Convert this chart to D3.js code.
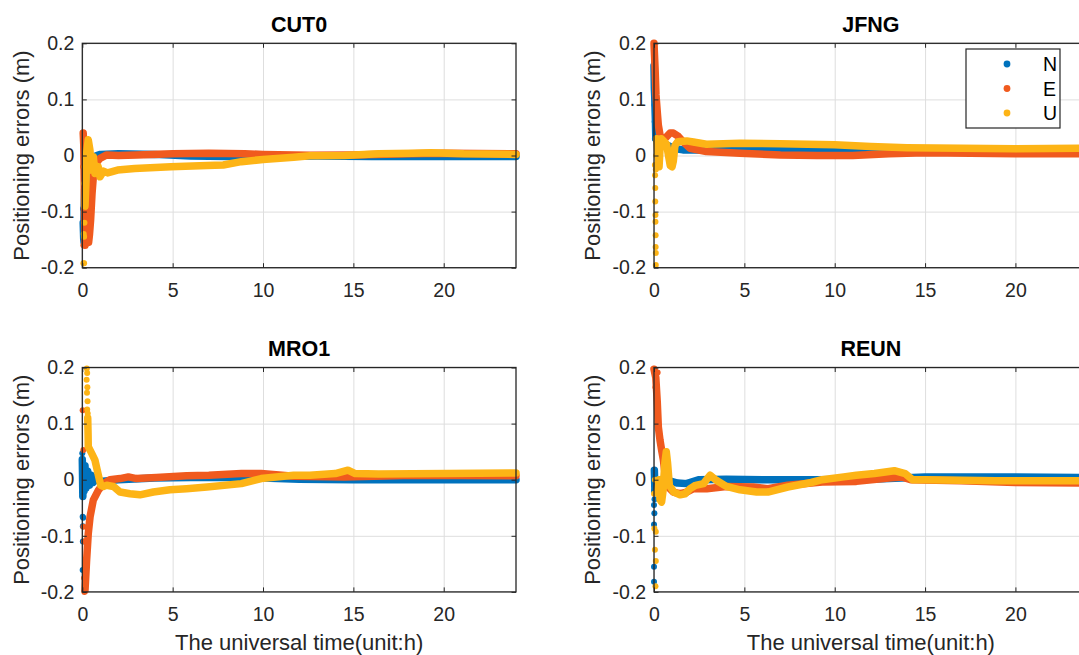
<!DOCTYPE html>
<html>
<head>
<meta charset="utf-8">
<script src="https://cdn.jsdelivr.net/npm/d3@7"></script>
<style>
  html, body { margin: 0; padding: 0; background: #fff; overflow: hidden; }
  svg { display: block; font-family: "Liberation Sans", Arial, Helvetica, sans-serif; }
</style>
</head>
<body>
<svg id="chart" width="1079" height="655"></svg>
<script>
// ---------------- DATA ----------------
const stations = ["CUT0", "JFNG", "MRO1", "REUN"];
const seriesNames = ["N", "E", "U"];
const seriesColors = ["#0072BD", "#F05A1E", "#FDB416"];
const xTicks = [0, 5, 10, 15, 20];
const yTicks = [-0.2, -0.1, 0, 0.1, 0.2];
const yTickLabels = ["-0.2", "-0.1", "0", "0.1", "0.2"];
const xLabel = "The universal time(unit:h)";
const yLabel = "Positioning errors (m)";

// [time (h), error (m)] -- dense band of each series
const cut0_N = [[0.05,-0.12],[0.08,-0.15],[0.1,-0.1],[0.13,-0.06],[0.16,-0.13],[0.2,-0.03],[0.25,0.01],[0.3,0.02],[0.35,-0.01],[0.45,0.0],[0.6,-0.005],[0.8,0.0],[1.0,0.002],[2,0.003],[4,0.002],[6,-0.001],[8,-0.002],[10,-0.002],[13,-0.001],[16,-0.002],[20,-0.002],[24,-0.002]];
const cut0_E = [[0.05,0.04],[0.08,0.02],[0.1,-0.03],[0.12,-0.09],[0.15,-0.16],[0.2,-0.12],[0.25,-0.15],[0.3,-0.1],[0.35,-0.155],[0.4,-0.14],[0.46,-0.115],[0.54,-0.067],[0.61,-0.038],[0.76,-0.014],[0.98,-0.005],[1.35,0.001],[2,0.0],[3,0.001],[5,0.003],[7,0.004],[9,0.003],[10,0.002],[12.6,0.0005],[15,0.001],[18,0.003],[20,0.004],[24,0.003]];
const cut0_U = [[0.15,-0.09],[0.2,-0.05],[0.24,0.004],[0.33,0.028],[0.42,0.01],[0.52,-0.026],[0.61,-0.002],[0.7,-0.032],[0.88,-0.02],[0.98,-0.038],[1.17,-0.028],[1.4,-0.031],[1.95,-0.026],[2.9,-0.023],[4.9,-0.02],[6.9,-0.018],[7.8,-0.017],[8.8,-0.011],[10,-0.007],[11.7,-0.003],[12.6,-0.0005],[14.5,0.0],[16.4,0.003],[18.3,0.004],[19.3,0.005],[21.1,0.003],[24,0.002]];
const jfng_N = [[0.0,0.16],[0.02,0.12],[0.04,0.105],[0.06,0.08],[0.08,0.06],[0.1,0.03],[0.15,0.05],[0.24,0.022],[0.4,0.02],[0.7,0.019],[1.07,0.013],[1.6,0.01],[3,0.01],[5,0.01],[8,0.009],[10,0.01],[13,0.009],[15,0.008],[20,0.008],[24,0.008]];
const jfng_E = [[0.0,0.2],[0.02,0.185],[0.04,0.17],[0.06,0.155],[0.11,0.108],[0.18,0.078],[0.24,0.054],[0.33,0.037],[0.42,0.028],[0.6,0.03],[0.89,0.04],[1.07,0.04],[1.35,0.034],[1.6,0.025],[1.99,0.013],[2.9,0.007],[4.76,0.004],[7,0.001],[9,0.0],[11,0.0],[13,0.003],[15,0.005],[20,0.003],[24,0.003]];
const jfng_U = [[0.15,0.03],[0.22,0.0],[0.28,-0.02],[0.33,0.01],[0.4,0.03],[0.55,0.025],[0.7,0.02],[0.8,0.0],[0.9,-0.018],[1.0,-0.02],[1.07,-0.01],[1.16,0.018],[1.3,0.024],[1.44,0.025],[1.81,0.026],[2.18,0.024],[2.9,0.02],[4.76,0.022],[7,0.021],[10,0.019],[12,0.016],[14,0.014],[17,0.013],[20,0.012],[24,0.013]];
const mro1_N = [[0.0,0.036],[0.03,-0.03],[0.06,0.02],[0.1,-0.02],[0.15,0.025],[0.2,-0.015],[0.3,0.015],[0.4,-0.01],[0.5,0.008],[0.6,-0.005],[0.8,0.002],[1.0,-0.003],[2,0.0],[4,0.003],[6,0.004],[8,0.004],[10,0.003],[12,0.001],[15,0.0],[20,0.0],[24,0.0]];
const mro1_E = [[0.15,-0.197],[0.24,-0.143],[0.33,-0.096],[0.43,-0.066],[0.61,-0.036],[0.89,-0.019],[1.17,-0.007],[1.53,0.0],[2.09,0.002],[2.55,0.005],[3.0,0.002],[4.1,0.004],[5.77,0.007],[7,0.008],[8.8,0.011],[9.9,0.011],[11.7,0.006],[14.5,0.005],[18.3,0.008],[24,0.007]];
const mro1_U = [[0.3,0.11],[0.32,0.08],[0.33,0.059],[0.52,0.047],[0.7,0.035],[0.89,0.008],[1.02,-0.01],[1.17,-0.012],[1.35,-0.01],[1.72,-0.012],[2.09,-0.022],[2.64,-0.025],[3.19,-0.027],[3.93,-0.022],[4.85,-0.018],[5.77,-0.016],[6.9,-0.013],[8.8,-0.007],[9.9,0.002],[11.7,0.008],[12.6,0.008],[14,0.011],[14.7,0.017],[15.1,0.011],[16.4,0.01],[20.2,0.011],[24,0.012]];
const reun_N = [[0.02,0.017],[0.05,-0.02],[0.1,0.0],[0.2,-0.01],[0.4,0.0],[0.6,-0.005],[0.86,-0.002],[1.3,-0.006],[1.8,-0.007],[2.5,0.0],[4,0.001],[6,0.0],[9,0.0],[12,0.001],[15,0.005],[20,0.005],[24,0.004]];
const reun_E = [[0.0,0.197],[0.1,0.182],[0.18,0.139],[0.2,0.124],[0.24,0.094],[0.33,0.071],[0.42,0.053],[0.52,0.035],[0.61,0.011],[0.79,-0.013],[1.07,-0.022],[1.44,-0.025],[1.81,-0.022],[2.18,-0.016],[2.92,-0.016],[4,-0.012],[5.5,-0.013],[6.3,-0.016],[7.4,-0.01],[9.3,-0.004],[11.2,-0.003],[13,0.003],[13.7,0.005],[14.2,0.0],[17,-0.002],[20,-0.005],[24,-0.006]];
const reun_U = [[0.2,-0.02],[0.28,0.0],[0.33,-0.035],[0.42,-0.04],[0.5,-0.02],[0.6,0.03],[0.68,0.05],[0.75,0.03],[0.85,-0.01],[1.1,-0.022],[1.44,-0.027],[1.72,-0.025],[2.0,-0.016],[2.3,-0.01],[2.74,-0.007],[3.1,0.008],[3.4,0.0],[4.0,-0.012],[4.76,-0.018],[5.68,-0.022],[6.3,-0.022],[7.4,-0.013],[8.7,-0.005],[9.3,0.0],[10.5,0.005],[11.2,0.008],[12.2,0.011],[13.3,0.016],[13.9,0.011],[14.3,0.0],[15,0.0],[18.9,-0.002],[24,-0.002]];

// isolated early epochs (drawn as single dots)
const cut0_N_dots = [[0.04,-0.095],[0.05,-0.13],[0.06,-0.155]];
const cut0_E_dots = [[0.04,0.04],[0.05,-0.02],[0.06,-0.16]];
const cut0_U_dots = [[0.06,-0.192],[0.1,-0.192],[0.1,-0.145],[0.08,-0.14],[0.12,-0.12],[0.15,-0.091],[0.1,-0.05],[0.12,-0.02]];
const jfng_N_dots = [[0.0,0.165],[0.02,0.12],[0.03,0.09],[0.04,0.06],[0.05,0.03]];
const jfng_E_dots = [[0.01,0.195],[0.03,0.175]];
const jfng_U_dots = [[0.05,-0.017],[0.06,-0.035],[0.07,-0.058],[0.07,-0.082],[0.08,-0.106],[0.08,-0.118],[0.09,-0.142],[0.09,-0.163],[0.1,-0.174],[0.1,-0.195],[0.12,0.0],[0.1,-0.025]];
const mro1_N_dots = [[0.0,0.047],[0.0,0.036],[0.02,-0.012],[0.02,-0.03],[0.02,-0.066],[0.03,-0.083],[0.03,-0.11],[0.02,-0.161],[0.05,-0.068]];
const mro1_E_dots = [[0.02,0.124],[0.06,0.053],[0.06,-0.084],[0.1,-0.11],[0.1,-0.175],[0.12,-0.2]];
const mro1_U_dots = [[0.25,0.198],[0.27,0.19],[0.24,0.178],[0.28,0.165],[0.26,0.155],[0.29,0.14],[0.27,0.125],[0.3,0.118]];
const reun_N_dots = [[0.01,0.017],[0.0,0.008],[0.0,-0.02],[0.0,-0.045],[0.02,-0.06],[0.0,-0.08],[0.0,-0.155],[0.0,-0.182],[0.03,-0.035]];
const reun_E_dots = [[0.02,0.197],[0.2,0.191],[0.08,0.165]];
const reun_U_dots = [[0.0,-0.025],[0.02,-0.087],[0.1,-0.093],[0.05,-0.125],[0.1,-0.145],[0.08,-0.19],[0.05,0.0]];

const bands = {
  CUT0: [cut0_N, cut0_E, cut0_U],
  JFNG: [jfng_N, jfng_E, jfng_U],
  MRO1: [mro1_N, mro1_E, mro1_U],
  REUN: [reun_N, reun_E, reun_U]
};
const dots = {
  CUT0: [cut0_N_dots, cut0_E_dots, cut0_U_dots],
  JFNG: [jfng_N_dots, jfng_E_dots, jfng_U_dots],
  MRO1: [mro1_N_dots, mro1_E_dots, mro1_U_dots],
  REUN: [reun_N_dots, reun_E_dots, reun_U_dots]
};

// ---------------- LAYOUT ----------------
const layout = [
  { left: 82.3, top: 43.3, xlab: false, legend: false, ylabX: 29 },
  { left: 654,  top: 43.3, xlab: false, legend: true,  ylabX: 599.5 },
  { left: 82.3, top: 367.5, xlab: true, legend: false, ylabX: 29 },
  { left: 654,  top: 367.5, xlab: true, legend: false, ylabX: 599.5 }
];
const PW = 433.7, PH = 224.4;
const ink = "#262626";
const svg = d3.select("#chart");

stations.forEach((st, i) => {
  const L = layout[i];
  const g = svg.append("g").attr("transform", `translate(${L.left},${L.top})`);
  const x = d3.scaleLinear().domain([0, 24]).range([0, PW]);
  const y = d3.scaleLinear().domain([-0.2, 0.2]).range([PH, 0]);

  // grid
  g.append("g").attr("transform", `translate(0,${PH})`)
    .call(d3.axisBottom(x).tickValues(xTicks).tickSize(-PH).tickFormat(""))
    .call(a => { a.select(".domain").remove(); a.selectAll("line").attr("stroke", "#dedede").attr("stroke-width", 1); });
  g.append("g")
    .call(d3.axisLeft(y).tickValues(yTicks).tickSize(-PW).tickFormat(""))
    .call(a => { a.select(".domain").remove(); a.selectAll("line").attr("stroke", "#dedede").attr("stroke-width", 1); });

  // data
  const line = d3.line().x(d => x(d[0])).y(d => y(d[1]));
  seriesNames.forEach((s, k) => {
    g.append("path").datum(bands[st][k])
      .attr("d", line).attr("fill", "none")
      .attr("stroke", seriesColors[k]).attr("stroke-width", 7.5)
      .attr("stroke-linejoin", "round").attr("stroke-linecap", "round");
    g.selectAll(null).data(dots[st][k]).enter().append("circle")
      .attr("cx", d => x(d[0])).attr("cy", d => y(d[1])).attr("r", 3)
      .attr("fill", seriesColors[k]);
  });

  // box
  g.append("rect").attr("width", PW).attr("height", PH)
    .attr("fill", "none").attr("stroke", ink).attr("stroke-width", 1.3);

  // axes (inward ticks)
  const fmtY = d => yTickLabels[yTicks.indexOf(d)];
  const styleAx = a => {
    a.select(".domain").remove();
    a.selectAll("line").attr("stroke", ink).attr("stroke-width", 1);
    a.selectAll("text").attr("fill", ink).attr("font-size", "19.5px").attr("font-family", "Liberation Sans, Arial, sans-serif");
  };
  g.append("g").attr("transform", `translate(0,${PH})`)
    .call(d3.axisBottom(x).tickValues(xTicks).tickSizeInner(-4.5).tickSizeOuter(0).tickPadding(15).tickFormat(d3.format("d")))
    .call(styleAx);
  g.append("g")
    .call(d3.axisTop(x).tickValues(xTicks).tickSizeInner(-4.5).tickSizeOuter(0).tickFormat(""))
    .call(styleAx);
  g.append("g")
    .call(d3.axisLeft(y).tickValues(yTicks).tickSizeInner(-4.5).tickSizeOuter(0).tickPadding(8).tickFormat(fmtY))
    .call(styleAx);
  g.append("g").attr("transform", `translate(${PW},0)`)
    .call(d3.axisRight(y).tickValues(yTicks).tickSizeInner(-4.5).tickSizeOuter(0).tickFormat(""))
    .call(styleAx);

  // title
  g.append("text").attr("x", PW / 2).attr("y", -11.8)
    .attr("text-anchor", "middle").attr("font-weight", "bold").attr("font-size", "21.5px")
    .attr("fill", "#000").text(st);

  // y label
  g.append("text")
    .attr("transform", `translate(${L.ylabX - L.left},${PH / 2}) rotate(-90)`)
    .attr("text-anchor", "middle").attr("font-size", "22px").attr("fill", ink).text(yLabel);

  if (L.xlab) {
    g.append("text").attr("x", PW / 2).attr("y", PH + 58)
      .attr("text-anchor", "middle").attr("font-size", "22px").attr("fill", ink).text(xLabel);
  }

  if (L.legend) {
    const lg = svg.append("g").attr("transform", "translate(966,49)");
    lg.append("rect").attr("width", 94).attr("height", 79)
      .attr("fill", "#fff").attr("stroke", ink).attr("stroke-width", 1.2);
    seriesNames.forEach((s, k) => {
      const yy = 15 + k * 24.5;
      lg.append("circle").attr("cx", 41).attr("cy", yy).attr("r", 3.4).attr("fill", seriesColors[k]);
      lg.append("text").attr("x", 77).attr("y", yy).attr("dy", "0.36em")
        .attr("font-size", "19.5px").attr("fill", "#000").attr("text-anchor", "start").text(s);
    });
  }
});
</script>
</body>
</html>
